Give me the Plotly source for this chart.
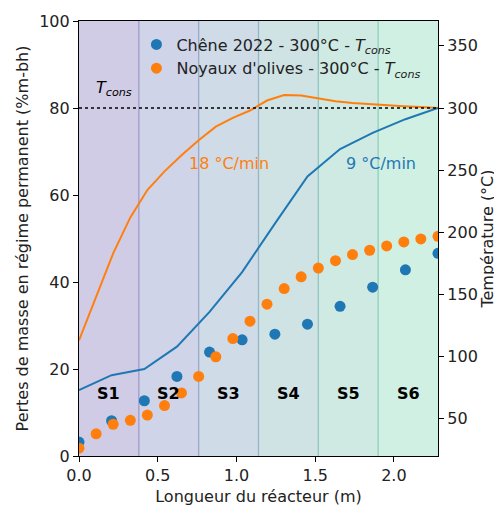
import plotly.graph_objects as go

# ---- data ----
x_chene = [0.0, 0.207, 0.415, 0.622, 0.829, 1.036, 1.244, 1.451, 1.658, 1.865, 2.073, 2.28]
y_chene = [3.2, 8.1, 12.7, 18.3, 23.9, 26.7, 28.0, 30.3, 34.4, 38.8, 42.8, 46.6]

x_olive = [0.0, 0.109, 0.217, 0.326, 0.434, 0.543, 0.651, 0.76, 0.869, 0.977, 1.086,
           1.194, 1.303, 1.411, 1.52, 1.629, 1.737, 1.846, 1.954, 2.063, 2.171, 2.28]
y_olive = [1.8, 5.1, 7.3, 8.2, 9.4, 11.6, 14.5, 18.3, 22.8, 27.0, 31.0,
           34.9, 38.5, 41.2, 43.2, 44.9, 46.3, 47.3, 48.3, 49.2, 49.9, 50.5]

x_temp_chene = [0.0, 0.207, 0.415, 0.622, 0.829, 1.036, 1.244, 1.451, 1.658, 1.865, 2.073, 2.28]
t_chene = [73, 85, 90, 108, 136, 168, 207, 245, 267, 280, 291, 300]

x_temp_olive = [0.0, 0.109, 0.217, 0.326, 0.434, 0.543, 0.651, 0.76, 0.869, 0.977, 1.086,
                1.194, 1.303, 1.411, 1.52, 1.629, 1.737, 1.846, 1.954, 2.063, 2.171, 2.28]
t_olive = [113, 148, 183, 212, 234, 249, 262, 274, 285, 292, 298,
           306, 310.5, 310, 307.5, 305.5, 304, 303, 302.5, 301.5, 300.8, 300]

section_edges = [0.0, 0.38, 0.76, 1.14, 1.52, 1.90, 2.28]
section_labels = ["S1", "S2", "S3", "S4", "S5", "S6"]
t_cons = 300

xticks = [0.0, 0.5, 1.0, 1.5, 2.0]
yticks = [0, 20, 40, 60, 80, 100]
y2ticks = [50, 100, 150, 200, 250, 300, 350]

# ---- styles ----
BLUE = "#1f77b4"
ORANGE = "#ff7f0e"
band_colors = ["#d1cce6", "#d0d4e8", "#cfdbe6", "#cfe2e4", "#cfeae2", "#cff0e2"]
edge_colors = ["#9e9bc9", "#9aa9c8", "#96b6c6", "#93c4c1", "#90d0bd"]
FONT = "DejaVu Sans"

fig = go.Figure()

# temperature lines (right axis)
fig.add_trace(go.Scatter(x=x_temp_olive, y=t_olive, mode="lines", yaxis="y2",
                         line=dict(color=ORANGE, width=2), showlegend=False))
fig.add_trace(go.Scatter(x=x_temp_chene, y=t_chene, mode="lines", yaxis="y2",
                         line=dict(color=BLUE, width=2), showlegend=False))
fig.add_trace(go.Scatter(x=[section_edges[0], section_edges[-1]], y=[t_cons, t_cons],
                         mode="lines", yaxis="y2",
                         line=dict(color="black", width=1.3, dash="3px,3px"),
                         showlegend=False))

# mass loss points (left axis)
fig.add_trace(go.Scatter(x=x_chene, y=y_chene, mode="markers",
                         marker=dict(color=BLUE, size=11),
                         name="Chêne 2022 - 300°C - <i>T</i><sub><i>cons</i></sub>"))
fig.add_trace(go.Scatter(x=x_olive, y=y_olive, mode="markers",
                         marker=dict(color=ORANGE, size=11),
                         name="Noyaux d'olives - 300°C - <i>T</i><sub><i>cons</i></sub>"))

shapes = []
for i in range(6):
    shapes.append(dict(type="rect", xref="x", yref="paper",
                       x0=section_edges[i], x1=section_edges[i + 1], y0=0, y1=1,
                       fillcolor=band_colors[i], line=dict(width=0), layer="below"))
for i in range(1, 6):
    shapes.append(dict(type="line", xref="x", yref="paper",
                       x0=section_edges[i], x1=section_edges[i], y0=0, y1=1,
                       line=dict(color=edge_colors[i - 1], width=1.3), layer="below"))
fig.update_layout(shapes=shapes)

annotations = []
for i, lab in enumerate(section_labels):
    annotations.append(dict(x=(section_edges[i] + section_edges[i + 1]) / 2, y=14.3,
                            xref="x", yref="y", text="<b>" + lab + "</b>",
                            showarrow=False, font=dict(size=16, color="black", family=FONT)))
annotations.append(dict(x=0.22, y=84.5, xref="x", yref="y", text="<i>T</i><sub><i>cons</i></sub>",
                        showarrow=False, font=dict(size=16, color="black", family=FONT)))
annotations.append(dict(x=0.95, y=67.2, xref="x", yref="y", text="18 °C/min",
                        showarrow=False, font=dict(size=16, color=ORANGE, family=FONT)))
annotations.append(dict(x=1.92, y=67.2, xref="x", yref="y", text="9 °C/min",
                        showarrow=False, font=dict(size=16, color=BLUE, family=FONT)))
fig.update_layout(annotations=annotations)

axis_common = dict(showline=True, linecolor="black", linewidth=1.2, ticks="outside",
                   ticklen=5, tickwidth=1.2, tickcolor="black", showgrid=False,
                   zeroline=False, automargin=False,
                   tickfont=dict(size=16, color="#222", family=FONT))

# the page body adds an 8px offset; compensate in size and margins
fig.update_layout(
    width=494, height=498,
    margin=dict(l=71, r=64, t=13, b=50),
    paper_bgcolor="white", plot_bgcolor="white",
    font=dict(family=FONT, size=16, color="#222"),
    xaxis=dict(range=[0, 2.28], tickvals=xticks, tickformat=".1f", mirror=True,
               title=dict(text="Longueur du réacteur (m)", font=dict(size=16), standoff=7),
               **axis_common),
    yaxis=dict(range=[0, 100], tickvals=yticks,
               title=dict(text="Pertes de masse en régime permanent (%m-bh)",
                          font=dict(size=16), standoff=6),
               **axis_common),
    yaxis2=dict(range=[20, 370], tickvals=y2ticks, overlaying="y", side="right",
                title=dict(text="Température (°C)", font=dict(size=16), standoff=4),
                **axis_common),
    legend=dict(x=0.16, y=0.985, xanchor="left", yanchor="top",
                bgcolor="rgba(0,0,0,0)", borderwidth=0,
                font=dict(size=16, color="#222", family=FONT), tracegroupgap=0),
)

fig.write_html("out.html")
